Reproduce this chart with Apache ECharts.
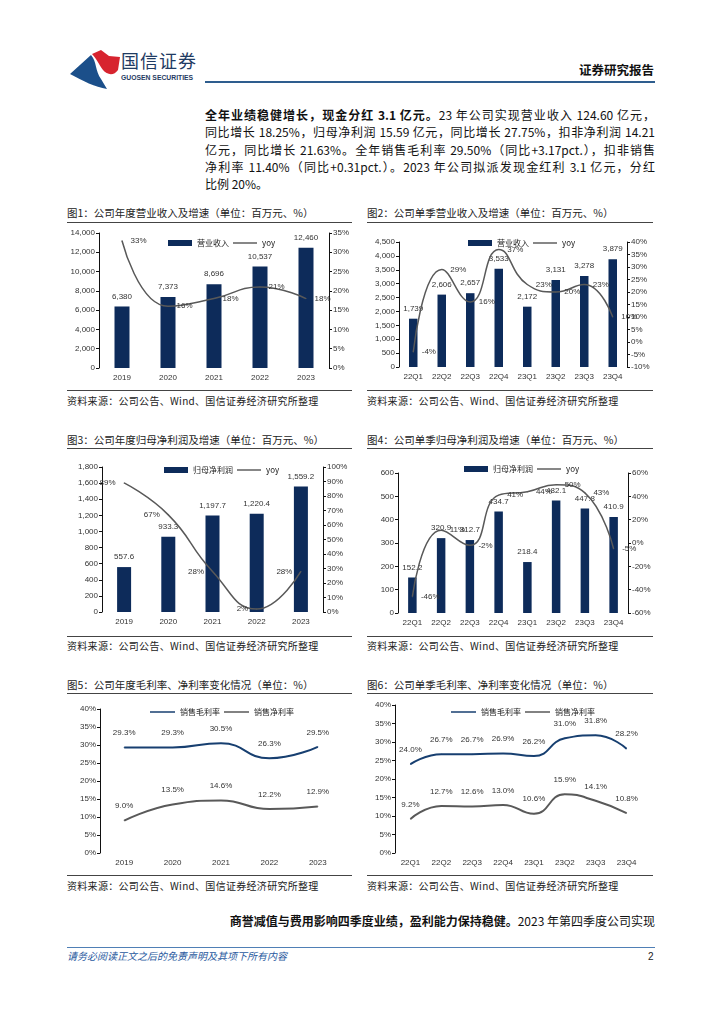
<!DOCTYPE html>
<html><head><meta charset="utf-8">
<script src="https://cdn.jsdelivr.net/npm/echarts/dist/echarts.min.js"></script>
<style>
html,body{margin:0;padding:0;background:#fff;}
body{width:724px;height:1024px;position:relative;overflow:hidden;font-family:"Noto Sans CJK SC","Liberation Sans",sans-serif;color:#111;}
.abs{position:absolute;}
.para div{height:17.3px;line-height:17.3px;font-size:12px;text-align:justify;text-align-last:justify;white-space:nowrap;}
.para div.last{text-align-last:left;}
.ttl{font-size:10.5px;line-height:14px;color:#222;white-space:nowrap;}
.hl{height:1px;background:#444;}
.src{font-size:10px;line-height:14px;color:#222;white-space:nowrap;letter-spacing:0.3px;}
.ch{position:absolute;width:300px;}
</style></head>
<body>
<!-- header -->
<svg class="abs" style="left:70px;top:50px" width="52" height="40" viewBox="0 0 52 40">
  <path d="M0,24 L21,5 C27,12 25,21 31,29 L37,39 C25,37 13,31 0,24 Z" fill="#1b4f8a"/>
  <path d="M22,4 L31,0 L39,6 L50,7 L48,20 C44,26 37,25 33,20 C29,15 27,9 22,4 Z" fill="#d7242f"/>
</svg>
<div class="abs" style="left:121px;top:50px;font-size:18px;line-height:21px;color:#1f3b63;letter-spacing:1px;">国信证券</div>
<div class="abs" style="left:121px;top:73px;font-size:6.8px;line-height:9px;color:#1f3b63;font-weight:bold;font-family:'Liberation Sans',sans-serif;">GUOSEN SECURITIES</div>
<div class="abs" style="left:579px;top:61px;font-size:12.5px;line-height:18px;font-weight:bold;color:#111;">证券研究报告</div>
<div class="abs" style="left:205px;top:81px;width:450px;height:2px;background:#2e5d8e;"></div>

<div class="abs para" style="left:205px;top:106px;width:450px;">
<div><b>全年业绩稳健增长，现金分红 3.1 亿元。</b>23 年公司实现营业收入 124.60 亿元，</div>
<div>同比增长 18.25%，归母净利润 15.59 亿元，同比增长 27.75%，扣非净利润 14.21</div>
<div>亿元，同比增长 21.63%。全年销售毛利率 29.50%（同比+3.17pct.），扣非销售</div>
<div>净利率 11.40%（同比+0.31pct.）。2023 年公司拟派发现金红利 3.1 亿元，分红</div>
<div class="last">比例 20%。</div>
</div>

<!-- row 1 -->
<div class="abs ttl" style="left:67px;top:206px;">图1：公司年度营业收入及增速（单位：百万元、%）</div>
<div class="abs hl" style="left:67px;top:222px;width:285px;"></div>
<div class="abs ttl" style="left:367px;top:206px;">图2：公司单季营业收入及增速（单位：百万元、%）</div>
<div class="abs hl" style="left:367px;top:222px;width:286px;"></div>
<div id="c1" class="ch" style="left:60px;top:225px;height:165px;"></div>
<div id="c2" class="ch" style="left:360px;top:225px;height:165px;"></div>
<div class="abs hl" style="left:67px;top:390px;width:285px;"></div>
<div class="abs hl" style="left:367px;top:390px;width:286px;"></div>
<div class="abs src" style="left:67px;top:394px;">资料来源：公司公告、Wind、国信证券经济研究所整理</div>
<div class="abs src" style="left:367px;top:394px;">资料来源：公司公告、Wind、国信证券经济研究所整理</div>

<!-- row 2 -->
<div class="abs ttl" style="left:67px;top:433px;">图3：公司年度归母净利润及增速（单位：百万元、%）</div>
<div class="abs hl" style="left:67px;top:448px;width:285px;"></div>
<div class="abs ttl" style="left:367px;top:433px;">图4：公司单季归母净利润及增速（单位：百万元、%）</div>
<div class="abs hl" style="left:367px;top:448px;width:286px;"></div>
<div id="c3" class="ch" style="left:60px;top:455px;height:180px;"></div>
<div id="c4" class="ch" style="left:360px;top:455px;height:180px;"></div>
<div class="abs hl" style="left:67px;top:636px;width:285px;"></div>
<div class="abs hl" style="left:367px;top:636px;width:286px;"></div>
<div class="abs src" style="left:67px;top:639px;">资料来源：公司公告、Wind、国信证券经济研究所整理</div>
<div class="abs src" style="left:367px;top:639px;">资料来源：公司公告、Wind、国信证券经济研究所整理</div>

<!-- row 3 -->
<div class="abs ttl" style="left:67px;top:678px;">图5：公司年度毛利率、净利率变化情况（单位：%）</div>
<div class="abs hl" style="left:67px;top:693px;width:285px;"></div>
<div class="abs ttl" style="left:367px;top:678px;">图6：公司单季毛利率、净利率变化情况（单位：%）</div>
<div class="abs hl" style="left:367px;top:693px;width:286px;"></div>
<div id="c5" class="ch" style="left:60px;top:695px;height:180px;"></div>
<div id="c6" class="ch" style="left:360px;top:695px;height:180px;"></div>
<div class="abs hl" style="left:67px;top:875px;width:285px;"></div>
<div class="abs hl" style="left:367px;top:875px;width:286px;"></div>
<div class="abs src" style="left:67px;top:879px;">资料来源：公司公告、Wind、国信证券经济研究所整理</div>
<div class="abs src" style="left:367px;top:879px;">资料来源：公司公告、Wind、国信证券经济研究所整理</div>

<div class="abs" style="left:205px;top:911px;width:450px;font-size:12px;line-height:19px;text-align:right;white-space:nowrap;"><b>商誉减值与费用影响四季度业绩，盈利能力保持稳健。</b>2023 年第四季度公司实现</div>

<div class="abs" style="left:67px;top:947px;width:588px;height:1px;background:#4f7fb5;"></div>
<div class="abs" style="left:67px;top:949px;font-size:10px;line-height:14px;font-style:italic;color:#2a5aa0;">请务必阅读正文之后的免责声明及其项下所有内容</div>
<div class="abs" style="left:648px;top:950px;font-size:10px;line-height:14px;color:#222;font-family:'Liberation Sans',sans-serif;">2</div>

<script>
// ---------- data ----------
const years = ['2019', '2020', '2021', '2022', '2023'];
const quarters = ['22Q1', '22Q2', '22Q3', '22Q4', '23Q1', '23Q2', '23Q3', '23Q4'];

const annualRevenue = [6380, 7373, 8696, 10537, 12460];
const annualRevenueYoy = [33, 16, 18, 21, 18];

const quarterRevenue = [1739, 2606, 2657, 3533, 2172, 3131, 3278, 3879];
const quarterRevenueYoy = [-4, 29, 16, 37, 23, 20, 23, 10];

const annualProfit = [557.6, 933.3, 1197.7, 1220.4, 1559.2];
const annualProfitYoy = [89, 67, 28, 2, 28];

const quarterProfit = [152.2, 320.9, 312.7, 434.7, 218.4, 482.1, 447.8, 410.9];
const quarterProfitYoy = [-46, 11, -2, 41, 44, 50, 43, -5];

const annualGross = [29.3, 29.3, 30.5, 26.3, 29.5];
const annualNet = [9.0, 13.5, 14.6, 12.2, 12.9];

const quarterGross = [24.0, 26.7, 26.7, 26.9, 26.2, 31.0, 31.8, 28.2];
const quarterNet = [9.2, 12.7, 12.6, 13.0, 10.6, 15.9, 14.1, 10.8];

// ---------- styling helpers ----------
const FONT = "'Liberation Sans','Noto Sans CJK SC',sans-serif";
const BAR = '#0d2b5a';
const GRAY = '#595959';
const BLUE = '#173f70';
const LINE_ICON = 'path://M0,0L100,0L100,6L0,6Z';
const fmtInt = v => v.toLocaleString('en-US');
const fmt1 = v => v.toLocaleString('en-US', {minimumFractionDigits: 1, maximumFractionDigits: 1});

function yAxis(opts) {
  return Object.assign({
    type: 'value',
    axisLine: {show: true, lineStyle: {color: '#111', width: 1}},
    axisTick: {show: true, length: 3, lineStyle: {color: '#111'}},
    splitLine: {show: false},
    axisLabel: {fontSize: 8, color: '#333', margin: 4, fontFamily: FONT}
  }, opts);
}
function xAxis(cats) {
  return {
    type: 'category', data: cats,
    axisLine: {show: false}, axisTick: {show: false},
    axisLabel: {fontSize: 8, color: '#333', margin: 6, fontFamily: FONT}
  };
}

function barLine(id, cfg) {
  const ch = echarts.init(document.getElementById(id), null, {renderer: 'canvas'});
  ch.setOption({
    animation: false,
    textStyle: {fontFamily: FONT},
    legend: {
      left: cfg.legendLeft, top: cfg.legendTop, itemWidth: 24, itemHeight: 6, itemGap: 4,
      textStyle: {fontSize: 8, color: '#222', fontFamily: "'Noto Sans CJK SC',sans-serif"},
      data: [{name: cfg.barName, icon: 'rect'}, {name: 'yoy', icon: LINE_ICON}]
    },
    grid: cfg.grid,
    xAxis: xAxis(cfg.cats),
    yAxis: [
      yAxis({min: cfg.lmin, max: cfg.lmax, interval: cfg.lint,
        axisLabel: {fontSize: 8, color: '#333', margin: 4, fontFamily: FONT, formatter: v => fmtInt(v)}}),
      yAxis({position: 'right', min: cfg.rmin, max: cfg.rmax, interval: cfg.rint,
        axisLabel: {fontSize: 8, color: '#333', margin: 4, fontFamily: FONT, formatter: v => v + '%'}})
    ],
    series: [
      {
        name: cfg.barName, type: 'bar', data: cfg.bars, barWidth: cfg.barWidth,
        itemStyle: {color: BAR},
        label: {show: true, position: 'top', distance: 6, fontSize: 8, color: '#333',
          fontFamily: FONT, formatter: p => cfg.barFmt(p.value)}
      },
      {
        name: 'yoy', type: 'line', yAxisIndex: 1, data: cfg.line, smooth: true,
        symbol: 'circle', symbolSize: 1, showSymbol: true,
        lineStyle: {color: GRAY, width: 1.5}, itemStyle: {color: GRAY},
        label: {show: true, position: cfg.linePos, distance: 8, fontSize: 8, color: '#333',
          fontFamily: FONT, formatter: p => p.value + '%'}
      }
    ]
  });
}

barLine('c1', {
  cats: years, bars: annualRevenue, line: annualRevenueYoy, barName: '营业收入',
  grid: {left: 39, top: 8, right: 31, bottom: 22},
  lmin: 0, lmax: 14000, lint: 2000, rmin: 0, rmax: 35, rint: 5,
  barWidth: 15, barFmt: fmtInt, linePos: 'right', legendLeft: 103, legendTop: 9
});
barLine('c2', {
  cats: quarters, bars: quarterRevenue, line: quarterRevenueYoy, barName: '营业收入',
  grid: {left: 39, top: 17, right: 33, bottom: 23},
  lmin: 0, lmax: 4500, lint: 500, rmin: -10, rmax: 40, rint: 5,
  barWidth: 8.5, barFmt: fmtInt, linePos: 'right', legendLeft: 103, legendTop: 9
});
barLine('c3', {
  cats: years, bars: annualProfit, line: annualProfitYoy, barName: '归母净利润',
  grid: {left: 42, top: 12, right: 37, bottom: 23},
  lmin: 0, lmax: 1800, lint: 200, rmin: 0, rmax: 100, rint: 10,
  barWidth: 14, barFmt: fmt1, linePos: 'left', legendLeft: 99, legendTop: 6
});
barLine('c4', {
  cats: quarters, bars: quarterProfit, line: quarterProfitYoy, barName: '归母净利润',
  grid: {left: 38, top: 18, right: 32, bottom: 22},
  lmin: 0, lmax: 600, lint: 100, rmin: -60, rmax: 60, rint: 20,
  barWidth: 8.5, barFmt: fmt1, linePos: 'right', legendLeft: 99, legendTop: 5
});

function marginChart(id, cfg) {
  const ch = echarts.init(document.getElementById(id), null, {renderer: 'canvas'});
  const lbl = {show: true, position: 'top', distance: 10, fontSize: 8, color: '#333',
    fontFamily: FONT, formatter: p => p.value.toFixed(1) + '%'};
  ch.setOption({
    animation: false,
    textStyle: {fontFamily: FONT},
    legend: {
      left: cfg.legendLeft, top: cfg.legendTop, itemWidth: 25, itemHeight: 6, itemGap: 4,
      textStyle: {fontSize: 8, color: '#222', fontFamily: "'Noto Sans CJK SC',sans-serif"},
      data: [{name: '销售毛利率', icon: LINE_ICON}, {name: '销售净利率', icon: LINE_ICON}]
    },
    grid: cfg.grid,
    xAxis: xAxis(cfg.cats),
    yAxis: yAxis({min: 0, max: 40, interval: 5,
      axisLabel: {fontSize: 8, color: '#333', margin: 4, fontFamily: FONT, formatter: v => v + '%'}}),
    series: [
      {name: '销售毛利率', type: 'line', data: cfg.gross, smooth: true,
        symbol: 'circle', symbolSize: 1, showSymbol: true,
        lineStyle: {color: BLUE, width: 2}, itemStyle: {color: BLUE}, label: lbl},
      {name: '销售净利率', type: 'line', data: cfg.net, smooth: true,
        symbol: 'circle', symbolSize: 1, showSymbol: true,
        lineStyle: {color: GRAY, width: 2}, itemStyle: {color: GRAY}, label: lbl}
    ]
  });
}
marginChart('c5', {cats: years, gross: annualGross, net: annualNet,
  grid: {left: 40, top: 14, right: 18, bottom: 22}, legendLeft: 85, legendTop: 8});
marginChart('c6', {cats: quarters, gross: quarterGross, net: quarterNet,
  grid: {left: 35, top: 10, right: 18, bottom: 22}, legendLeft: 86, legendTop: 8});
</script>
</body></html>
